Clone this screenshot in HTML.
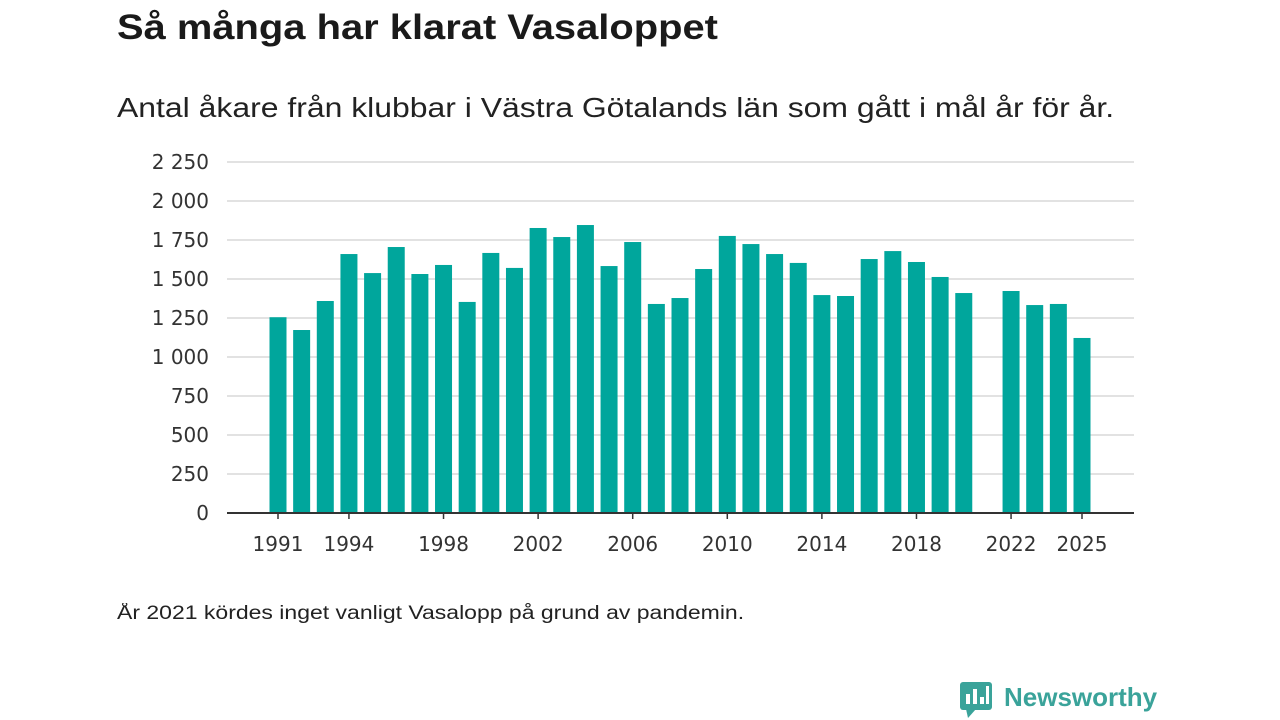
<!DOCTYPE html>
<html><head><meta charset="utf-8">
<style>
body{margin:0;width:1280px;height:720px;background:#fff;overflow:hidden;font-family:"Liberation Sans","DejaVu Sans",sans-serif;color:#1a1a1a}
h1,.sub,.foot{position:absolute;left:117px;margin:0;white-space:nowrap;transform-origin:0 0}
h1{top:8px;font-size:35px;font-weight:bold;transform:scaleX(1.14)}
.sub{top:92px;font-size:28px;color:#222;transform:scaleX(1.14)}
.foot{top:603px;font-size:19px;color:#222;transform:scaleX(1.21)}
svg{position:absolute;left:0;top:0}
</style></head><body>
<h1>Så många har klarat Vasaloppet</h1>
<p class="sub">Antal åkare från klubbar i Västra Götalands län som gått i mål år för år.</p>
<div class="foot">År 2021 kördes inget vanligt Vasalopp på grund av pandemin.</div>
<svg id="chart" width="1280" height="720"></svg>
<svg width="1280" height="720" style="pointer-events:none">
<rect x="960" y="682" width="32" height="28" rx="3" fill="#3aa39a"/>
<polygon points="966,709 976,709 968,718" fill="#3aa39a"/>
<rect x="966" y="694" width="4" height="10" fill="#fff"/><rect x="973" y="689" width="4" height="15" fill="#fff"/><rect x="980" y="697" width="4" height="7" fill="#fff"/><rect x="986" y="686" width="3" height="18" fill="#fff"/>
<text x="1004" y="706" font-size="26" font-weight="bold" fill="#3aa39a" font-family="Liberation Sans, sans-serif">Newsworthy</text>
</svg>
<script>
const years=[1991,1992,1993,1994,1995,1996,1997,1998,1999,2000,2001,2002,2003,2004,2005,2006,2007,2008,2009,2010,2011,2012,2013,2014,2015,2016,2017,2018,2019,2020,2021,2022,2023,2024,2025];
const values=[1255,1173,1359,1660,1538,1705,1532,1590,1353,1667,1571,1827,1769,1846,1583,1737,1340,1378,1564,1776,1724,1660,1603,1397,1391,1628,1679,1609,1513,1410,null,1423,1333,1340,1122];
const yTicks=[0,250,500,750,1000,1250,1500,1750,2000,2250];
const xTickYears=[1991,1994,1998,2002,2006,2010,2014,2018,2022,2025];
const NS="http://www.w3.org/2000/svg";
const svg=document.getElementById('chart');
const y0=513,yTop=162,yMax=2250,xL=227,xR=1134;
const y=v=>y0-(v/yMax)*(y0-yTop);
const x=yr=>278+(yr-1991)*(1082-278)/34;
const fmt=v=>v>=1000?Math.floor(v/1000)+" "+String(v%1000).padStart(3,'0'):String(v);
function mk(t,a){const e=document.createElementNS(NS,t);for(const k in a)e.setAttribute(k,a[k]);svg.appendChild(e);return e;}
yTicks.forEach(v=>{
 if(v>0){const g=mk('line',{x1:xL,x2:xR,y1:y(v),y2:y(v),stroke:'#d9d9d9','stroke-width':1.5});
 
 }
 const t=mk('text',{x:209,y:y(v)+7,'text-anchor':'end','font-size':20,fill:'#333','font-family':'DejaVu Sans, sans-serif'});
 t.textContent=fmt(v);
 
 
});
years.forEach((yr,i)=>{
 const v=values[i]; if(v==null) return;
 const r=mk('rect',{x:x(yr)-8.5,y:y(v),width:17,height:y0-y(v),fill:'#00a69c'});
 
 
});
const ax=mk('line',{x1:xL,x2:xR,y1:y0,y2:y0,stroke:'#333','stroke-width':2});


xTickYears.forEach(yr=>{
 const tk=mk('line',{x1:x(yr),x2:x(yr),y1:y0,y2:y0+6,stroke:'#333','stroke-width':1.5});
 
 
 const t=mk('text',{x:x(yr),y:551,'text-anchor':'middle','font-size':20,fill:'#333','font-family':'DejaVu Sans, sans-serif'});
 t.textContent=yr;
 
 
});
</script>
</body></html>
